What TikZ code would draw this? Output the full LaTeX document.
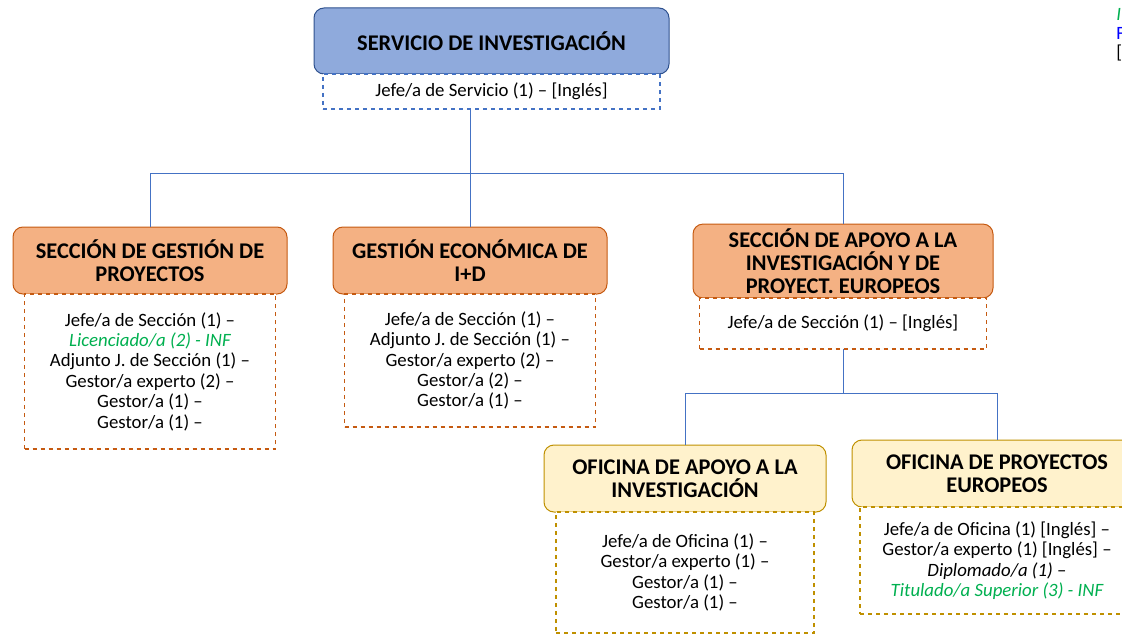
\documentclass[tikz,border=0pt]{standalone}
\usepackage{fontspec}
\setmainfont{Carlito}
\usetikzlibrary{positioning}

\definecolor{servfill}{HTML}{8FAADC}
\definecolor{servdraw}{HTML}{2F528F}
\definecolor{servline}{HTML}{4472C4}
\definecolor{secfill}{HTML}{F4B183}
\definecolor{secdraw}{HTML}{C55A11}
\definecolor{ofifill}{HTML}{FFF2CC}
\definecolor{ofidraw}{HTML}{BF9000}
\definecolor{infgreen}{HTML}{00B050}
\definecolor{notablue}{HTML}{0000FF}

\begin{document}
\begin{tikzpicture}[x=0.75pt, y=-0.75pt,
	head/.style={draw, rectangle, rounded corners=7.5pt, line width=0.75pt, outer sep=0pt, align=center, font=\fontsize{16.8}{17.25}\selectfont\bfseries, minimum height=50.25pt},
	staff/.style={draw, dashed, rectangle, line width=0.9pt, outer sep=0pt, fill=white, align=center, font=\fontsize{14.1}{15.3}\selectfont},
	conn/.style={draw=servline, line width=0.75pt}]
	\useasboundingbox (0,0) rectangle (1122,635);
	
	% Nodes
	\node [head, fill=servfill, draw=servdraw, minimum width=266.25pt, minimum height=49.5pt] (servicio) at (491.5,41) {SERVICIO DE INVESTIGACIÓN};
	\node [staff, draw=servline, below=0pt of servicio, minimum width=252.75pt, minimum height=26.25pt] (jefeserv) {Jefe/a de Servicio (1) – [Inglés]};
	
	\node [head, fill=secfill, draw=secdraw, minimum width=205.5pt] (gestion) at (150,260.5) {SECCIÓN DE GESTIÓN DE\\PROYECTOS};
	\node [staff, draw=secdraw, below=0pt of gestion, minimum width=188.25pt, minimum height=116.25pt] (gestionstaff) {Jefe/a de Sección (1) –\\{\color{infgreen}\itshape Licenciado/a (2) - INF}\\Adjunto J. de Sección (1) –\\Gestor/a experto (2) –\\Gestor/a (1) –\\Gestor/a (1) –};
	
	\node [head, fill=secfill, draw=secdraw, minimum width=205.5pt] (economica) at (470,260.5) {GESTIÓN ECONÓMICA DE\\I+D};
	\node [staff, draw=secdraw, below=0pt of economica, minimum width=188.25pt, minimum height=99.75pt] (economicastaff) {Jefe/a de Sección (1) –\\Adjunto J. de Sección (1) –\\Gestor/a experto (2) –\\Gestor/a (2) –\\Gestor/a (1) –};
	
	\node [head, fill=secfill, draw=secdraw, minimum width=225pt, minimum height=51pt] (apoyo) at (843,261) {SECCIÓN DE APOYO A LA\\INVESTIGACIÓN Y DE\\PROYECT. EUROPEOS};
	\node [staff, draw=secdraw, below=0pt of apoyo, minimum width=215.25pt, minimum height=38.25pt] (apoyostaff) {Jefe/a de Sección (1) – [Inglés]};
	
	\node [head, fill=ofifill, draw=ofidraw, minimum width=211.5pt] (ofiapoyo) at (685,478.5) {OFICINA DE APOYO A LA\\INVESTIGACIÓN};
	\node [staff, draw=ofidraw, below=0pt of ofiapoyo, minimum width=193.5pt, minimum height=90.75pt] (ofiapoyostaff) {Jefe/a de Oficina (1) –\\Gestor/a experto (1) –\\Gestor/a (1) –\\Gestor/a (1) –};
	
	\node [head, fill=ofifill, draw=ofidraw, minimum width=217.5pt] (ofieuropa) at (997,473.5) {OFICINA DE PROYECTOS\\EUROPEOS};
	\node [staff, draw=ofidraw, below=0pt of ofieuropa, minimum width=205.5pt, minimum height=80.25pt] (ofieuropastaff) {Jefe/a de Oficina (1) [Inglés] –\\Gestor/a experto (1) [Inglés] –\\{\itshape Diplomado/a (1)} –\\{\color{infgreen}\itshape Titulado/a Superior (3) - INF}};
	
	% Note at the edge
	\node [anchor=north west, align=left, inner sep=0pt, font=\fontsize{14.1}{14.25}\selectfont] (nota) at (1116,8) {{\color{infgreen}\itshape I}\\{\color{notablue}F}\\{[}};
	
	% Lines
	\coordinate (bus1) at (0,173);
	\coordinate (bus2) at (0,393);
	\draw [conn] (jefeserv.south -| economica.north) -- (economica.north);
	\draw [conn] (gestion.north) -- (gestion.north |- bus1) -- (apoyo.north |- bus1) -- (apoyo.north);
	\draw [conn] (apoyostaff.south) -- (apoyostaff.south |- bus2);
	\draw [conn] (ofiapoyo.north) -- (ofiapoyo.north |- bus2) -- (ofieuropa.north |- bus2) -- (ofieuropa.north);
	
\end{tikzpicture}
\end{document}
